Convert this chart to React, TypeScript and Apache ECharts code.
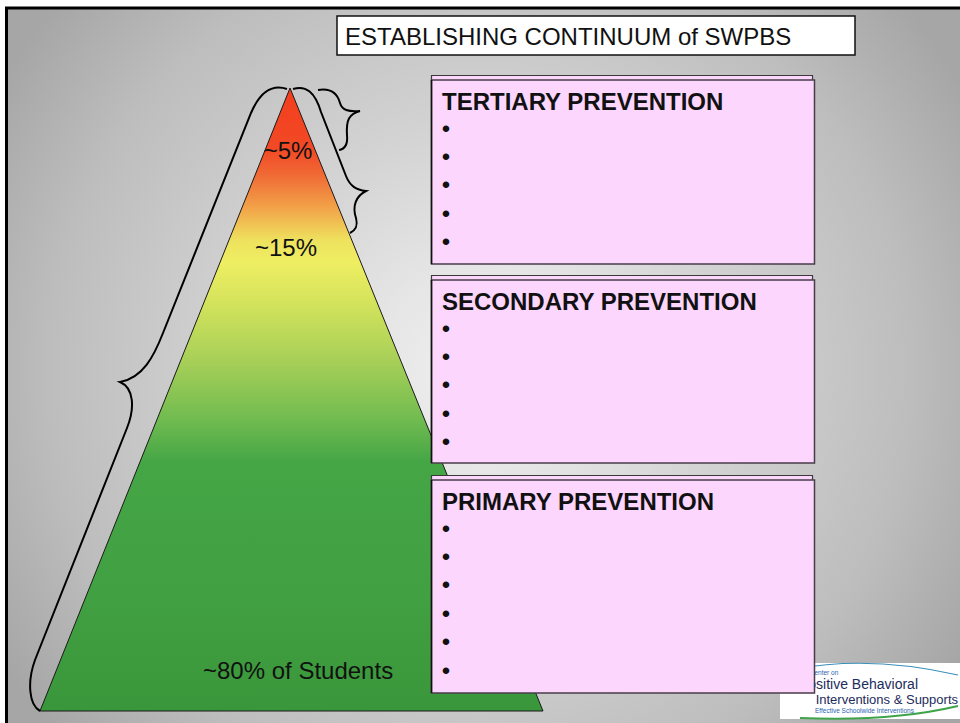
import React, { useEffect, useRef } from "react";
import * as echarts from "echarts";

// ---- data ----
const chartTitle = "ESTABLISHING CONTINUUM of SWPBS";
const tierLabels = ["~5%", "~15%", "~80% of Students"];
const preventionTitles = ["TERTIARY PREVENTION", "SECONDARY PREVENTION", "PRIMARY PREVENTION"];
const bulletCounts = [5, 5, 6];
const logoLines = ["OSEP Center on", "Positive Behavioral", "Interventions & Supports", "Effective Schoolwide Interventions"];

const FONT = '"Liberation Sans", Arial, Helvetica, sans-serif';

const LEFT_BRACE =
  "M 287 89 C 272 84 260 92 251 113 L 163 333 C 154 356 143 378 120 382 C 134 388 135 408 127 428 L 35 660 C 27 682 29 705 40 711";
const RIGHT_BRACE_LONG =
  "M 293 89 C 306 85 315 92 321 112 L 346 176 C 350 186 356 190 366 191 C 356 196 352 206 356 218 C 358 226 356 230 350 233";
const RIGHT_BRACE_SHORT =
  "M 318 90 C 330 88 337 92 340 103 C 342 110 348 112 360 111 C 349 114 346 120 347 135 C 348 145 345 149 339 150";

let registered = false;
function registerShapes() {
  if (registered) return;
  registered = true;
  echarts.graphic.registerShape("braceLeft", echarts.graphic.extendPath(LEFT_BRACE, {}) as any);
  echarts.graphic.registerShape("braceLong", echarts.graphic.extendPath(RIGHT_BRACE_LONG, {}) as any);
  echarts.graphic.registerShape("braceShort", echarts.graphic.extendPath(RIGHT_BRACE_SHORT, {}) as any);
}

function buildGraphic() {
  const els: any[] = [];
  // white page
  els.push({ type: "rect", shape: { x: 0, y: 0, width: 960, height: 723 }, style: { fill: "#ffffff" }, silent: true });
  // slide background radial gradient
  els.push({
    type: "rect",
    shape: { x: 6, y: 8, width: 954, height: 715 },
    style: {
      fill: {
        type: "radial",
        x: 480,
        y: 370,
        r: 560,
        global: true,
        colorStops: [
          { offset: 0, color: "#f0f0f0" },
          { offset: 0.18, color: "#e6e6e6" },
          { offset: 0.45, color: "#d2d2d2" },
          { offset: 0.77, color: "#bdbdbd" },
          { offset: 1, color: "#a6a6a6" },
        ],
      },
    },
    silent: true,
  });
  // slide frame
  els.push({ type: "line", shape: { x1: 5, y1: 8, x2: 960, y2: 8 }, style: { stroke: "#000", lineWidth: 3 } });
  els.push({ type: "line", shape: { x1: 6.5, y1: 7, x2: 6.5, y2: 723 }, style: { stroke: "#000", lineWidth: 3 } });

  // pyramid
  els.push({
    type: "polygon",
    shape: { points: [[290, 88], [543, 711], [40, 711]] },
    style: {
      fill: {
        type: "linear",
        x: 0,
        y: 0,
        x2: 0,
        y2: 1,
        colorStops: [
          { offset: 0, color: "#f33e1e" },
          { offset: 0.1, color: "#f24a26" },
          { offset: 0.14, color: "#f06a35" },
          { offset: 0.19, color: "#f2a048" },
          { offset: 0.245, color: "#eee25e" },
          { offset: 0.28, color: "#eeee62" },
          { offset: 0.34, color: "#d6e45c" },
          { offset: 0.44, color: "#a6cf58" },
          { offset: 0.53, color: "#72bc50" },
          { offset: 0.6, color: "#45a646" },
          { offset: 0.82, color: "#41a042" },
          { offset: 1, color: "#3a963a" },
        ],
      },
      stroke: "#1a1a1a",
      lineWidth: 1,
    },
  });

  // braces
  const braceStyle = { fill: "none", stroke: "#000", lineWidth: 2 };
  els.push({ type: "braceLeft", x: 0, y: 0, style: braceStyle });
  els.push({ type: "braceLong", x: 0, y: 0, style: braceStyle });
  els.push({ type: "braceShort", x: 0, y: 0, style: braceStyle });

  // tier labels
  const tierPos = [
    [288, 150, "center"],
    [286, 247, "center"],
    [203, 670, "left"],
  ];
  tierLabels.forEach((t, i) => {
    els.push({
      type: "text",
      x: tierPos[i][0],
      y: tierPos[i][1],
      style: {
        text: t,
        font: `24px ${FONT}`,
        fill: "#111",
        textAlign: tierPos[i][2],
        textVerticalAlign: "middle",
      },
    });
  });

  // title box
  els.push({
    type: "rect",
    shape: { x: 337, y: 16, width: 518, height: 39 },
    style: { fill: "#ffffff", stroke: "#111", lineWidth: 1.5 },
  });
  els.push({
    type: "text",
    x: 345,
    y: 36,
    style: { text: chartTitle, font: `24px ${FONT}`, fill: "#111", textAlign: "left", textVerticalAlign: "middle" },
  });

  // logo
  els.push({ type: "rect", shape: { x: 780, y: 663, width: 180, height: 56 }, style: { fill: "#ffffff" } });
  els.push({
    type: "bezierCurve",
    shape: { x1: 795, y1: 669, cpx1: 870, cpy1: 655, x2: 958, y2: 675 },
    style: { stroke: "#3a8fb8", lineWidth: 1.2, fill: "none" },
  });
  els.push({
    type: "bezierCurve",
    shape: { x1: 800, y1: 718, cpx1: 890, cpy1: 722, x2: 958, y2: 706 },
    style: { stroke: "#3fa34a", lineWidth: 2, fill: "none" },
  });
  els.push({
    type: "text",
    x: 790,
    y: 672,
    style: { text: logoLines[0], font: `6.5px ${FONT}`, fill: "#2a5fb0", textAlign: "left", textVerticalAlign: "middle" },
  });
  els.push({
    type: "text",
    x: 918,
    y: 684,
    style: { text: logoLines[1], font: `14px ${FONT}`, fill: "#1c2c5c", textAlign: "right", textVerticalAlign: "middle" },
  });
  els.push({
    type: "text",
    x: 958,
    y: 699,
    style: { text: logoLines[2], font: `13px ${FONT}`, fill: "#1c2c5c", textAlign: "right", textVerticalAlign: "middle" },
  });
  els.push({
    type: "text",
    x: 815,
    y: 710,
    style: { text: logoLines[3], font: `6.5px ${FONT}`, fill: "#2a5fb0", textAlign: "left", textVerticalAlign: "middle" },
  });

  // prevention boxes
  const boxTops = [75, 275, 475];
  const boxBottoms = [264, 463, 693];
  preventionTitles.forEach((title, i) => {
    const top = boxTops[i];
    const bottom = boxBottoms[i];
    els.push({
      type: "rect",
      shape: { x: 431.5, y: top + 0.5, width: 381, height: 8 },
      style: { fill: "#fdd6fd", stroke: "#3a3a3a", lineWidth: 1.2 },
    });
    els.push({
      type: "rect",
      shape: { x: 431.5, y: top + 5, width: 383, height: bottom - top - 5 },
      style: { fill: "#fdd6fd", stroke: "#4a3c4a", lineWidth: 1.5 },
    });
    els.push({
      type: "line",
      shape: { x1: 431.5, y1: top + 5, x2: 431.5, y2: bottom },
      style: { stroke: "#111", lineWidth: 1.5 },
    });
    els.push({
      type: "text",
      x: 442,
      y: top + 26,
      style: { text: title, font: `bold 24px ${FONT}`, fill: "#111", textAlign: "left", textVerticalAlign: "middle" },
    });
    for (let b = 0; b < bulletCounts[i]; b++) {
      els.push({
        type: "text",
        x: 446,
        y: top + 53 + b * 28.4,
        style: { text: "•", font: `24px ${FONT}`, fill: "#111", textAlign: "center", textVerticalAlign: "middle" },
      });
    }
  });

  return els;
}

export default function App() {
  const ref = useRef<HTMLDivElement>(null);
  useEffect(() => {
    document.body.style.margin = "0";
    registerShapes();
    if (!ref.current) return;
    const chart = echarts.init(ref.current, null, { renderer: "svg" });
    chart.setOption({
      animation: false,
      backgroundColor: "#ffffff",
      graphic: { elements: buildGraphic() },
    });
    return () => chart.dispose();
  }, []);
  return <div ref={ref} style={{ width: 960, height: 723 }} />;
}
